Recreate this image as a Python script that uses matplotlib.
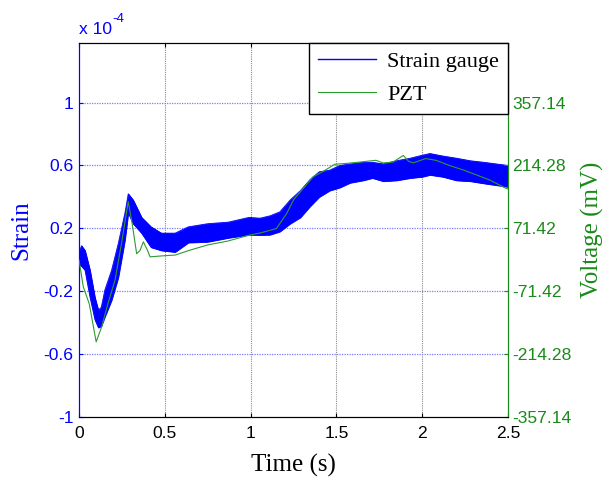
import matplotlib
matplotlib.use("Agg")
import matplotlib.pyplot as plt

# Strain gauge signal (x 1e-4): the trace is a dense noisy band, kept as upper/lower envelope
strain_time = [0.0, 0.015, 0.035, 0.064, 0.093, 0.113, 0.13, 0.151, 0.19, 0.229,
               0.268, 0.287, 0.316, 0.365, 0.42, 0.48, 0.56, 0.637, 0.75, 0.87,
               0.99, 1.055, 1.113, 1.17, 1.23, 1.29, 1.346, 1.40, 1.46, 1.52,
               1.58, 1.655, 1.71, 1.773, 1.85, 1.93, 2.0, 2.045, 2.12, 2.2,
               2.28, 2.36, 2.43, 2.5]
strain_upper = [0.05, 0.09, 0.06, -0.065, -0.24, -0.32, -0.30, -0.19, -0.065, 0.105,
                0.30, 0.42, 0.38, 0.27, 0.21, 0.17, 0.17, 0.21, 0.23, 0.24,
                0.27, 0.265, 0.28, 0.305, 0.38, 0.44, 0.51, 0.56, 0.57, 0.60,
                0.61, 0.62, 0.62, 0.61, 0.63, 0.646, 0.665, 0.676, 0.66, 0.646,
                0.63, 0.62, 0.61, 0.60]
strain_lower = [-0.03, -0.04, -0.065, -0.236, -0.38, -0.43, -0.42, -0.36, -0.255, -0.11,
                0.13, 0.30, 0.23, 0.17, 0.08, 0.06, 0.05, 0.11, 0.115, 0.14,
                0.16, 0.158, 0.16, 0.18, 0.23, 0.27, 0.34, 0.40, 0.44, 0.46,
                0.49, 0.505, 0.52, 0.50, 0.505, 0.52, 0.528, 0.54, 0.528, 0.505,
                0.50, 0.486, 0.475, 0.464]

# PZT voltage (mV)
pzt_time = [0.0, 0.025, 0.06, 0.08, 0.1, 0.132, 0.171, 0.21, 0.247, 0.287,
            0.31, 0.336, 0.355, 0.375, 0.40, 0.414, 0.48, 0.56, 0.637, 0.75,
            0.87, 0.99, 1.055, 1.15, 1.21, 1.25, 1.306, 1.365, 1.42, 1.49,
            1.56, 1.637, 1.73, 1.773, 1.83, 1.89, 1.92, 1.947, 2.02, 2.08,
            2.16, 2.24, 2.315, 2.395, 2.49, 2.5]
pzt_mv = [0, -61, -100, -143, -186, -152, -96, -46, 36, 132,
          82, 14, 21, 41, 21, 7, 9, 11, 21, 34,
          43, 56, 61, 71, 105, 136, 162, 189, 200, 217,
          219, 222, 226, 220, 222, 237, 224, 220, 230, 226,
          214, 204, 193, 181, 162, 161]

x_ticks = [0, 0.5, 1, 1.5, 2, 2.5]
x_tick_labels = ["0", "0.5", "1", "1.5", "2", "2.5"]
strain_ticks = [-1, -0.6, -0.2, 0.2, 0.6, 1]
strain_tick_labels = ["-1", "-0.6", "-0.2", "0.2", "0.6", "1"]
volt_ticks = [-357.14, -214.28, -71.42, 71.42, 214.28, 357.14]
volt_tick_labels = ["-357.14", "-214.28", "-71.42", "71.42", "214.28", "357.14"]

BLUE = "#0000ff"
GREEN = "#1a8a1a"
SANS = "Liberation Sans"
SERIF = "Liberation Serif"

W, H = 605, 480
fig = plt.figure(figsize=(W / 100, H / 100), dpi=100)
ax = fig.add_axes([79 / W, 1 - 417.3 / H, 429 / W, 374.6 / H])
ax2 = ax.twinx()

top = 1.38
ax.set_xlim(0, 2.5)
ax.set_ylim(-1, top)
ax2.set_ylim(-357.14, top * 357.14)

# grid: vertical gray, horizontal blue (from left axis)
for xv in x_ticks[1:-1]:
    ax.axvline(xv, color="#8a8a8a", lw=0.8, ls=(0, (1, 1)), zorder=0)
for yv in strain_ticks[1:]:
    ax.axhline(yv, color="#7b7bff", lw=0.9, ls=(0, (1, 1)), zorder=0)

ax.fill_between(strain_time, strain_lower, strain_upper, color=BLUE, lw=0.6, zorder=2)
ax.plot(strain_time, strain_upper, color=BLUE, lw=0.6, zorder=2)
ax.plot(strain_time, strain_lower, color=BLUE, lw=0.6, zorder=2)
ax2.plot(pzt_time, pzt_mv, color="#2e9a2e", lw=0.8, zorder=3)

ax.set_xticks(x_ticks)
ax.set_xticklabels(x_tick_labels, fontfamily=SANS, fontsize=12.6)
ax.set_yticks(strain_ticks)
ax.set_yticklabels(strain_tick_labels, fontfamily=SANS, fontsize=12.6, color=BLUE)
ax2.set_yticks(volt_ticks)
ax2.set_yticklabels(volt_tick_labels, fontfamily=SANS, fontsize=12.6, color=GREEN)

ax.tick_params(axis="x", direction="in", length=3, pad=6, top=True, color="black")
ax.tick_params(axis="y", direction="in", length=3, pad=4, color=BLUE)
ax2.tick_params(axis="y", direction="in", length=3, pad=3, color=GREEN)

ax.spines["left"].set_color(BLUE)
ax2.spines["left"].set_color(BLUE)
ax2.spines["right"].set_color(GREEN)
ax.spines["right"].set_color(GREEN)
for sp in ("top", "bottom"):
    ax.spines[sp].set_color("black")

# multiplier label
fig.text(79 / W, 1 - 34 / H, "x 10", color=BLUE, fontfamily=SANS, fontsize=12.6, va="baseline")
fig.text(112 / W, 1 - 22 / H, "-4", color=BLUE, fontfamily=SANS, fontsize=9.5, va="baseline")

fig.text(293 / W, 1 - 465 / H, "Time (s)", fontfamily=SERIF, fontsize=18, ha="center", va="center")
fig.text(21 / W, 1 - 230 / H, "Strain", fontfamily=SERIF, fontsize=18, color=BLUE,
         rotation=90, ha="center", va="center")
fig.text(592 / W, 1 - 230 / H, "Voltage (mV)", fontfamily=SERIF, fontsize=18, color=GREEN,
         rotation=90, ha="center", va="center")

h1, = ax.plot([], [], color=BLUE, lw=1)
h2, = ax.plot([], [], color="#2e9a2e", lw=0.8)
leg = ax2.legend([h1, h2], ["Strain gauge", "PZT"], loc="upper right", borderaxespad=0,
                 prop={"family": SERIF, "size": 16}, fancybox=False, framealpha=1,
                 edgecolor="black", handlelength=2.6, labelspacing=0.55, borderpad=0.4,
                 handletextpad=0.5)
leg.get_frame().set_linewidth(1.0)

fig.savefig("out.png", dpi=100)
